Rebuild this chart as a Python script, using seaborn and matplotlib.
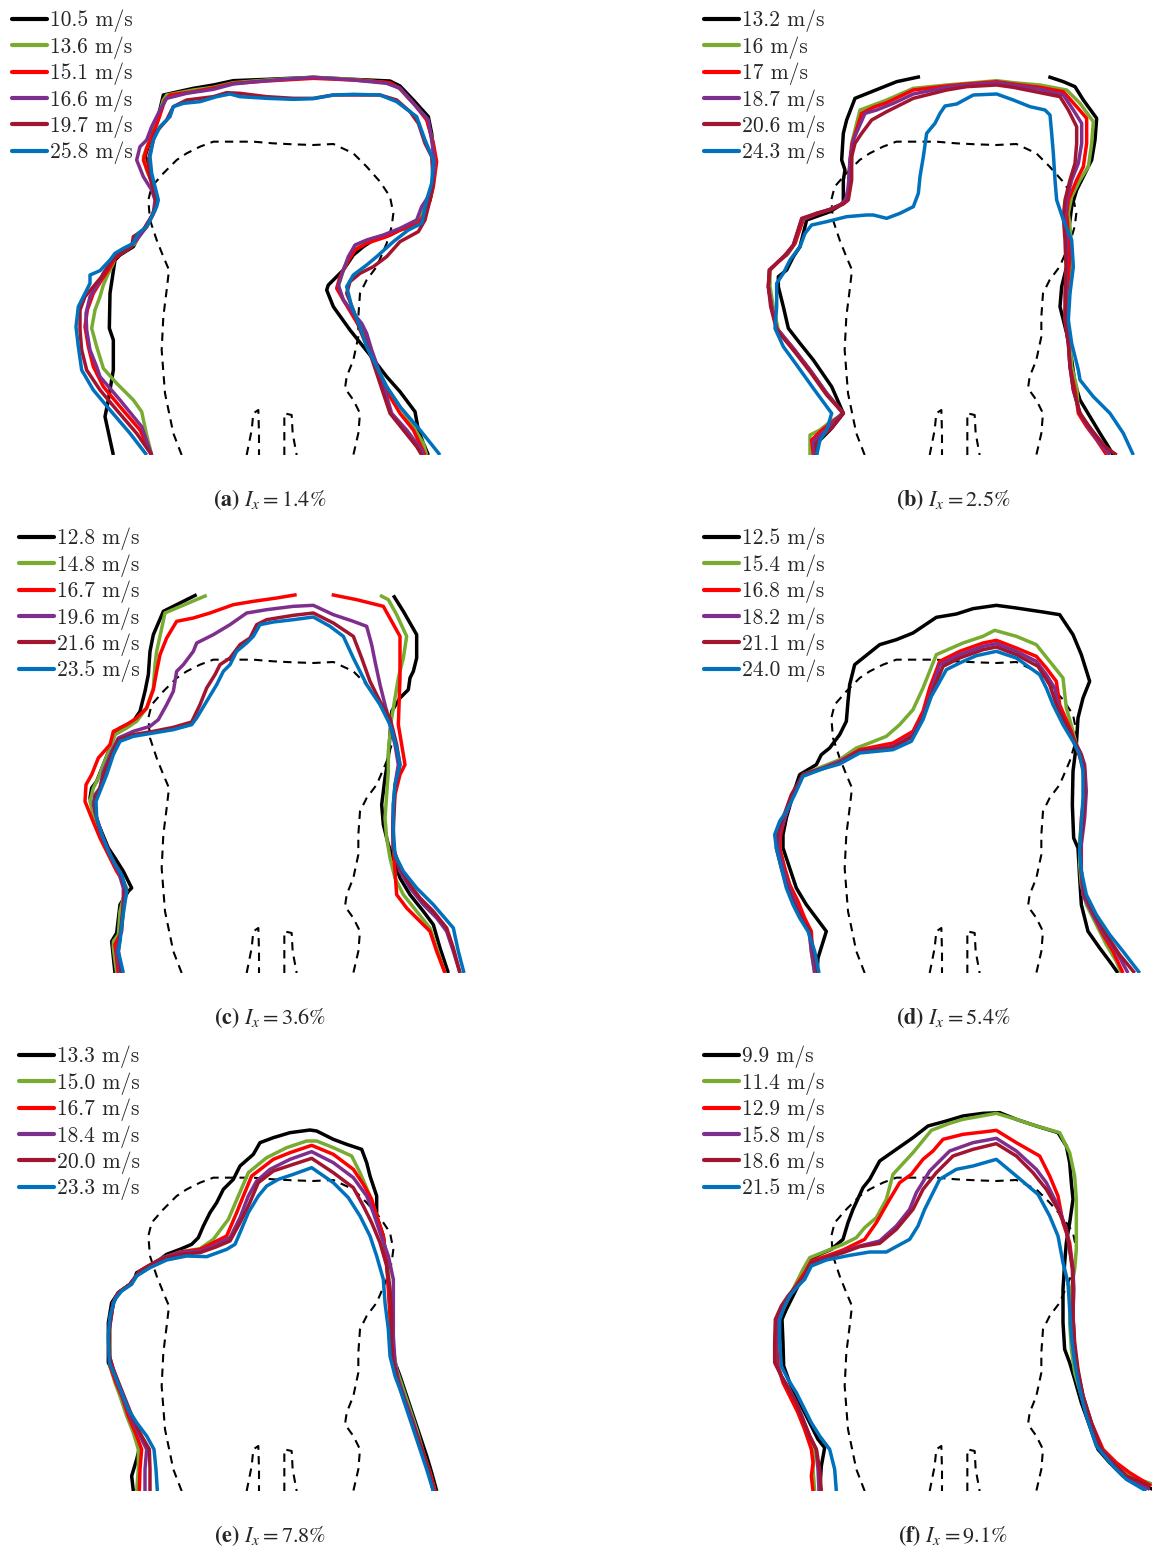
import numpy as np
import pandas as pd
import matplotlib
matplotlib.use("Agg")
import matplotlib.pyplot as plt
import seaborn as sns
from matplotlib.font_manager import FontProperties
from matplotlib.lines import Line2D

# ---------------- data (panel-local picture units, y downward) ----------------
G = (np.nan, np.nan)  # gap marker

COLORS = ["#000000", "#77AC30", "#FF0000", "#7E2F8E", "#A2142F", "#0072BD"]

BODY = [(545,1365),(520,1300),(495,1180),(485,1050),(490,950),(500,870),(507,810),(490,770),
        (470,720),(450,660),(445,600),(455,560),(490,520),(530,480),(560,460),(600,440),(640,425),
        (700,425),(760,425),(820,430),(880,433),(940,435),(1000,432),(1060,460),(1100,500),
        (1140,545),(1170,590),(1180,640),(1175,680),(1160,730),(1130,800),(1100,840),(1080,880),
        (1075,950),(1075,1010),(1060,1080),(1040,1130),(1035,1165),(1060,1200),(1080,1240),
        (1075,1300),(1060,1365)]
LEG1 = [(740,1365),(755,1290),(760,1240),(775,1230),(777,1300),(777,1365)]
LEG2 = [(853,1365),(853,1240),(875,1245),(878,1300),(890,1365)]

# ---- panel (a) I_x = 1.4 %
A_LABELS = ["10.5 m/s", "13.6 m/s", "15.1 m/s", "16.6 m/s", "19.7 m/s", "25.8 m/s"]
A0 = [(340,1365),(315,1250),(325,1200),(340,1110),(340,1020),(328,985),(330,880),(345,780),(360,765),
      (400,740),(420,700),(440,680),(465,630),(470,590),(460,555),(445,510),(435,470),(450,420),(470,370),
      (490,285),(580,265),(640,255),(700,242),(800,238),(940,232),(1060,238),(1170,243),(1200,258),
      (1240,300),(1285,350),(1295,400),(1300,450),(1305,490),(1298,560),(1290,600),(1270,640),(1250,675),
      (1200,690),(1170,705),(1120,720),(1090,740),(1060,765),(1030,810),(985,855),(980,870),(1000,920),
      (1050,990),(1110,1065),(1160,1130),(1200,1175),(1245,1235),(1255,1290),(1270,1330),(1285,1365)]
A1 = [(455,1365),(440,1305),(425,1235),(400,1200),(350,1150),(310,1105),(290,1040),(275,985),(285,930),
      (300,890),(310,855),(325,820),(340,790),(345,770),(380,750),(405,730),(420,700),(440,680),(465,630),
      (470,590),(455,545),(440,510),(430,470),(445,430),(460,400),(490,300),(500,285),(580,270),(640,262),
      (700,248),(800,240),(940,232),(1060,238),(1160,248),(1195,262),(1240,310),(1280,355),(1300,430),
      (1305,490),(1295,560),(1280,600),(1260,650),(1250,670),(1200,690),(1160,705),(1120,715),(1070,740),
      (1050,770),(1030,810),(1015,860),(1030,900),(1060,940),(1090,990),(1110,1040),(1130,1100),
      (1160,1160),(1200,1220),(1240,1280),(1270,1330),(1280,1365)]
A2 = [(455,1365),(420,1290),(360,1220),(310,1160),(280,1100),(265,1040),(255,980),(262,930),(280,880),
      (305,840),(325,810),(345,775),(380,748),(405,725),(430,690),(460,640),(470,600),(460,560),(445,520),
      (430,480),(440,445),(460,400),(475,360),(495,300),(510,285),(580,275),(650,262),(700,250),(800,243),
      (940,235),(1060,240),(1170,248),(1200,265),(1245,315),(1280,360),(1300,430),(1310,485),(1300,560),
      (1290,600),(1275,640),(1255,670),(1200,690),(1160,710),(1100,730),(1065,750),(1040,790),(1020,830),
      (1010,865),(1030,900),(1060,950),(1090,1000),(1110,1060),(1140,1130),(1170,1190),(1200,1240),
      (1240,1290),(1275,1365)]
A3 = [(455,1365),(425,1280),(360,1200),(300,1130),(290,1100),(270,1050),(260,990),(258,940),(270,890),
      (295,850),(310,820),(330,790),(345,770),(375,752),(410,720),(440,680),(460,640),(465,600),(455,570),
      (430,530),(410,480),(420,440),(440,420),(455,380),(480,330),(500,295),(560,280),(640,268),(700,252),
      (800,242),(940,232),(1060,240),(1160,250),(1200,265),(1240,310),(1285,360),(1295,420),(1305,490),
      (1300,540),(1285,590),(1265,620),(1250,660),(1200,685),(1150,705),(1100,720),(1065,735),(1045,770),
      (1030,810),(1015,855),(1030,900),(1060,940),(1085,970),(1100,1000),(1115,1050),(1140,1120),
      (1175,1240),(1220,1290),(1265,1350),(1270,1365)]
A4 = [(455,1365),(410,1300),(350,1230),(300,1170),(260,1110),(245,1050),(240,990),(240,930),(255,890),
      (280,860),(305,830),(330,790),(345,770),(370,755),(395,740),(400,710),(430,690),(455,650),(470,610),
      (460,570),(450,530),(445,480),(455,440),(465,400),(500,360),(520,320),(560,300),(640,290),(680,278),
      (720,280),(800,290),(880,295),(940,295),(1000,285),(1060,285),(1140,285),(1190,300),(1230,335),
      (1255,370),(1275,430),(1295,470),(1300,550),(1290,600),(1275,660),(1255,695),(1200,725),(1160,770),
      (1120,800),(1080,820),(1050,845),(1040,880),(1060,930),(1080,990),(1110,1060),(1130,1120),
      (1150,1180),(1170,1240),(1210,1290),(1250,1340),(1265,1365)]
A5 = [(440,1365),(390,1300),(330,1230),(280,1170),(245,1110),(235,1040),(228,980),(235,920),(255,880),
      (270,850),(270,825),(300,812),(330,780),(345,760),(370,745),(400,730),(415,700),(440,680),(470,620),
      (475,600),(465,560),(455,520),(450,470),(460,420),(480,380),(510,350),(520,320),(550,310),(600,305),
      (650,290),(690,282),(720,290),(800,295),(880,298),(940,296),(1000,285),(1060,283),(1140,285),
      (1190,305),(1250,350),(1275,420),(1300,480),(1295,550),(1280,600),(1265,670),(1225,690),(1180,725),
      (1130,770),(1100,795),(1060,825),(1040,860),(1055,920),(1080,980),(1100,1040),(1130,1100),
      (1160,1160),(1200,1220),(1260,1290),(1300,1340),(1320,1365)]

# ---- panel (b) I_x = 2.5 %
B_LABELS = ["13.2 m/s", "16 m/s", "17 m/s", "18.7 m/s", "20.6 m/s", "24.3 m/s"]
B0 = [(410,1330),(450,1290),(490,1240),(455,1160),(400,1080),(360,1030),(325,985),(310,920),(295,860),
      (295,830),(320,810),(340,770),(360,740),(380,660),(450,635),(490,610),(490,540),(495,510),(485,480),
      (490,400),(500,360),(525,295),(600,265),(650,245),(720,230),G,
      (1105,230),(1150,245),(1185,260),(1210,300),(1250,355),(1245,420),(1235,480),(1220,510),(1190,570),
      (1175,620),(1165,700),(1160,800),(1145,860),(1140,920),(1150,960),(1160,1000),(1175,1080),
      (1185,1150),(1200,1200),(1230,1250),(1260,1300),(1285,1340),(1300,1365)]
B1 = [(390,1365),(390,1305),(420,1290),(445,1270),(490,1240),(440,1180),(390,1110),(340,1050),(295,990),
      (280,920),(270,860),(270,810),(300,780),(325,760),(345,730),(370,655),(410,640),(450,628),(480,615),
      (500,600),(510,560),(515,480),(515,430),(540,330),(580,315),(620,300),(700,265),(800,255),(860,250),
      (950,242),(1000,248),(1080,255),(1160,270),(1200,310),(1240,365),(1235,430),(1225,500),(1200,540),
      (1175,590),(1165,640),(1170,680),(1175,750),(1170,830),(1160,900),(1160,960),(1170,1020),
      (1175,1100),(1190,1160),(1195,1230),(1220,1270),(1250,1310),(1285,1365)]
B2 = [(400,1365),(395,1320),(420,1295),(445,1275),(490,1240),(440,1180),(390,1110),(340,1045),(290,985),
      (275,920),(265,860),(270,810),(295,785),(320,765),(345,730),(370,658),(410,642),(450,628),(480,615),
      (497,600),(505,565),(510,480),(515,435),(545,340),(580,322),(620,308),(700,270),(800,258),(860,252),
      (950,245),(1000,252),(1080,262),(1150,275),(1190,320),(1220,355),(1220,430),(1210,500),(1190,540),
      (1165,600),(1160,640),(1165,700),(1170,760),(1165,830),(1158,900),(1160,960),(1165,1020),
      (1170,1100),(1185,1170),(1195,1240),(1220,1280),(1250,1320),(1280,1365)]
B3 = [(405,1365),(400,1325),(425,1300),(450,1280),(488,1238),(440,1180),(390,1110),(340,1045),(290,985),
      (275,920),(265,860),(268,810),(295,785),(320,762),(340,735),(365,660),(410,640),(450,628),(490,610),
      (500,590),(505,560),(510,480),(520,420),(555,340),(590,330),(640,310),(700,282),(800,262),(860,255),
      (950,248),(1000,255),(1080,268),(1150,285),(1180,330),(1205,370),(1205,430),(1195,490),(1175,540),
      (1160,600),(1155,650),(1160,720),(1160,800),(1158,880),(1155,960),(1165,1030),(1170,1100),
      (1180,1170),(1200,1240),(1230,1290),(1260,1330),(1290,1365)]
B4 = [(410,1365),(408,1330),(430,1305),(455,1285),(490,1240),(440,1185),(390,1115),(340,1050),(290,990),
      (272,920),(265,860),(268,810),(290,790),(315,765),(340,735),(365,655),(410,640),(455,628),(490,612),
      (505,600),(515,540),(515,470),(525,430),(545,400),(575,360),(620,335),(700,295),(800,270),(860,260),
      (950,255),(1000,262),(1080,278),(1140,290),(1165,330),(1190,380),(1190,430),(1185,490),(1170,540),
      (1155,600),(1150,650),(1155,720),(1158,800),(1155,880),(1155,960),(1165,1030),(1170,1100),
      (1180,1170),(1200,1240),(1235,1290),(1275,1340),(1310,1365)]
B5 = [(410,1365),(420,1320),(440,1290),(455,1240),(400,1165),(350,1095),(310,1040),(285,985),(290,920),
      (290,850),(310,820),(330,780),(360,740),(375,700),(395,675),(440,665),(500,650),(560,645),(580,645),
      (620,655),(660,640),(700,620),(715,580),(720,530),(730,470),(740,400),(765,370),(780,340),(795,318),
      (830,312),(880,285),(950,282),(1000,300),(1050,320),(1095,330),(1110,345),(1115,400),(1120,460),
      (1125,540),(1130,600),(1150,660),(1175,720),(1180,800),(1170,880),(1165,960),(1175,1030),
      (1195,1110),(1200,1140),(1240,1190),(1290,1240),(1330,1300),(1360,1365)]

# ---- panel (c) I_x = 3.6 %
C_LABELS = ["12.8 m/s", "14.8 m/s", "16.7 m/s", "19.6 m/s", "21.6 m/s", "23.5 m/s"]
C0 = [(345,1365),(335,1270),(350,1245),(360,1160),(385,1120),(395,1110),(370,1060),(345,1020),(325,990),
      (300,930),(280,880),(270,840),(275,810),(290,790),(310,740),(330,690),(345,645),(360,630),(400,610),
      (420,580),(435,520),(445,470),(450,400),(460,350),(490,280),(520,265),(590,230),G,
      (1180,232),(1210,280),(1250,350),(1250,420),(1240,460),(1230,480),(1225,515),(1200,540),(1175,580),
      (1170,650),(1165,720),(1155,780),(1145,860),(1150,920),(1165,980),(1180,1020),(1200,1080),
      (1230,1130),(1270,1180),(1300,1220),(1320,1290),(1345,1365)]
C1 = [(350,1365),(340,1290),(340,1270),(355,1250),(360,1180),(370,1140),(380,1110),(360,1070),(340,1030),
      (320,990),(300,940),(280,890),(270,850),(280,810),(295,780),(310,740),(335,680),(345,650),(380,630),
      (410,610),(440,570),(460,510),(465,440),(470,400),(495,285),(530,270),(620,232),G,
      (1140,232),(1165,245),(1190,290),(1220,355),(1210,420),(1195,480),(1185,540),(1175,600),(1170,650),
      (1165,700),(1165,760),(1160,830),(1155,900),(1160,960),(1170,1020),(1185,1080),(1210,1130),
      (1250,1180),(1290,1230),(1310,1290),(1335,1365)]
C2 = [(355,1365),(345,1280),(365,1240),(370,1170),(380,1120),(370,1090),(350,1060),(325,1010),(300,960),
      (275,900),(255,850),(258,800),(275,770),(295,720),(330,680),(340,640),(380,620),(410,600),(440,570),
      (460,515),(470,460),(480,410),(500,360),(530,310),(580,300),(630,285),(700,260),(760,250),(830,240),
      (890,230),G,
      (995,230),(1070,245),(1150,265),(1175,310),(1200,355),(1200,480),(1195,620),(1205,680),(1215,740),
      (1200,770),(1185,830),(1180,930),(1180,990),(1185,1060),(1190,1130),(1220,1170),(1260,1210),
      (1290,1240),(1310,1300),(1335,1365)]
C3 = [(360,1365),(350,1300),(360,1260),(370,1180),(370,1110),(355,1060),(335,1020),(310,960),(290,900),
      (280,860),(285,830),(300,810),(310,760),(335,700),(355,660),(400,640),(450,625),(475,605),(500,560),
      (520,520),(530,460),(550,440),(580,400),(590,375),(640,350),(690,320),(740,285),(800,275),(880,265),
      (940,262),(1000,290),(1060,310),(1100,325),(1115,380),(1125,430),(1140,500),(1155,560),(1170,620),
      (1185,680),(1195,740),(1185,800),(1180,860),(1178,930),(1180,990),(1200,1060),(1230,1110),
      (1270,1160),(1310,1200),(1340,1240),(1360,1300),(1380,1365)]
C4 = [(365,1365),(355,1300),(360,1260),(368,1180),(375,1110),(360,1060),(340,1030),(320,990),(300,940),
      (285,880),(285,840),(300,810),(315,760),(335,710),(355,665),(400,650),(460,640),(520,628),(575,612),
      (600,560),(620,510),(645,470),(660,440),(690,420),(720,380),(750,360),(770,320),(800,305),(880,292),
      (940,285),(1000,315),(1060,355),(1085,420),(1110,490),(1140,550),(1170,600),(1190,680),(1200,740),
      (1185,810),(1180,900),(1180,990),(1200,1050),(1230,1100),(1260,1140),(1300,1180),(1340,1230),
      (1360,1290),(1380,1365)]
C5 = [(370,1365),(355,1300),(360,1270),(368,1200),(380,1120),(365,1070),(345,1040),(325,1000),(305,950),
      (290,900),(288,850),(300,820),(320,770),(340,710),(360,670),(400,655),(460,645),(520,635),(575,620),
      (590,600),(620,550),(650,500),(670,460),(690,440),(710,400),(740,375),(760,355),(780,320),(820,312),
      (880,305),(940,297),(990,325),(1030,355),(1060,420),(1100,500),(1140,560),(1170,620),(1190,690),
      (1200,740),(1185,800),(1180,860),(1180,940),(1185,1010),(1210,1060),(1250,1110),(1300,1160),
      (1360,1230),(1375,1300),(1392,1365)]

# ---- panel (d) I_x = 5.4 %
D_LABELS = ["12.5 m/s", "15.4 m/s", "16.8 m/s", "18.2 m/s", "21.1 m/s", "24.0 m/s"]
D0 = [(402,1365),(405,1320),(430,1240),(400,1200),(370,1160),(340,1110),(320,1050),(300,990),(300,950),
      (310,900),(330,830),(350,770),(400,740),(415,710),(440,690),(470,650),(490,610),(495,550),(500,500),
      (515,440),(540,420),(590,380),(640,365),(690,345),(760,298),(820,288),(870,272),(940,262),(1000,270),
      (1080,282),(1130,290),(1170,350),(1195,410),(1220,490),(1200,540),(1185,600),(1180,680),(1170,760),
      (1168,860),(1172,960),(1185,990),(1190,1080),(1195,1160),(1215,1240),(1250,1290),(1280,1330),
      (1305,1365)]
D1 = [(395,1365),(385,1300),(380,1240),(360,1200),(340,1150),(320,1100),(305,1050),(290,990),(290,950),
      (305,900),(330,830),(360,770),(420,745),(470,725),(520,690),(560,675),(610,655),(650,620),(690,575),
      (720,510),(740,460),(760,410),(840,375),(900,355),(935,337),(1000,355),(1060,380),(1100,430),
      (1140,480),(1150,570),(1170,640),(1185,700),(1200,740),(1205,800),(1200,880),(1190,960),(1190,1040),
      (1195,1100),(1210,1160),(1240,1220),(1270,1280),(1300,1330),(1315,1365)]
D2 = [(400,1365),(388,1300),(385,1240),(365,1200),(345,1150),(320,1100),(305,1050),(290,990),(293,950),
      (305,900),(330,830),(360,770),(420,750),(470,730),(530,695),(630,675),(690,640),(720,580),(740,510),
      (770,430),(830,400),(900,375),(940,367),(1000,390),(1060,415),(1090,450),(1120,490),(1130,560),
      (1165,640),(1185,700),(1200,750),(1205,820),(1195,900),(1192,980),(1195,1060),(1200,1130),
      (1230,1190),(1260,1250),(1290,1300),(1320,1365)]
D3 = [(395,1365),(385,1300),(378,1240),(355,1200),(335,1150),(315,1100),(300,1050),(285,990),(290,940),
      (305,900),(330,830),(360,770),(420,750),(470,730),(530,700),(630,685),(690,650),(720,595),(745,520),
      (770,440),(830,410),(900,385),(940,377),(1000,400),(1060,430),(1090,470),(1115,510),(1130,580),
      (1165,650),(1195,710),(1205,740),(1210,820),(1205,900),(1195,980),(1195,1060),(1200,1130),
      (1230,1190),(1265,1250),(1300,1300),(1335,1365)]
D4 = [(405,1365),(392,1300),(380,1240),(355,1200),(330,1150),(310,1100),(295,1050),(280,990),(285,940),
      (300,900),(325,830),(360,770),(420,752),(470,735),(530,700),(630,688),(690,655),(720,600),(745,530),
      (780,445),(830,420),(900,395),(940,387),(1000,410),(1065,445),(1100,500),(1120,560),(1140,600),
      (1170,660),(1195,710),(1205,760),(1205,840),(1200,920),(1192,980),(1195,1060),(1205,1130),
      (1235,1190),(1270,1250),(1310,1310),(1355,1365)]
D5 = [(408,1365),(395,1300),(375,1240),(350,1200),(330,1160),(310,1110),(295,1050),(280,990),(275,950),
      (290,910),(310,880),(335,830),(360,775),(420,752),(470,738),(530,705),(630,695),(685,670),(720,605),
      (745,535),(765,500),(790,455),(830,435),(880,413),(940,400),(1000,420),(1070,470),(1090,510),
      (1110,560),(1140,620),(1170,670),(1190,710),(1200,760),(1200,840),(1195,920),(1190,1000),(1195,1060),
      (1210,1130),(1240,1190),(1280,1250),(1320,1300),(1370,1365)]

# ---- panel (e) I_x = 7.8 %
E_LABELS = ["13.3 m/s", "15.0 m/s", "16.7 m/s", "18.4 m/s", "20.0 m/s", "23.3 m/s"]
E0 = [(400,1365),(395,1320),(410,1270),(420,1230),(400,1180),(380,1120),(360,1060),(340,1010),(325,980),
      (325,920),(325,860),(335,800),(355,770),(390,745),(405,725),(410,710),(440,695),(480,670),(500,655),
      (540,640),(575,625),(595,605),(610,570),(630,530),(650,500),(670,460),(700,430),(720,390),(760,355),
      (780,320),(820,305),(870,290),(930,282),(950,285),(1000,310),(1040,325),(1085,340),(1100,380),
      (1110,420),(1130,480),(1130,540),(1150,600),(1160,680),(1165,740),(1170,820),(1175,900),(1185,980),
      (1200,1020),(1220,1080),(1240,1140),(1260,1200),(1280,1260),(1295,1310),(1310,1365)]
E1 = [(410,1365),(415,1300),(415,1240),(400,1190),(380,1140),(360,1080),(345,1040),(330,990),(330,930),
      (330,860),(340,800),(355,770),(390,745),(405,725),(420,705),(445,690),(490,665),(540,648),(600,638),
      (640,610),(685,550),(715,480),(745,410),(800,365),(860,335),(920,315),(950,315),(1000,335),
      (1055,360),(1080,410),(1110,480),(1130,540),(1150,620),(1165,700),(1170,780),(1175,860),(1180,940),
      (1190,1000),(1210,1060),(1230,1120),(1250,1180),(1270,1250),(1290,1310),(1305,1365)]
E2 = [(418,1365),(420,1300),(425,1240),(410,1200),(385,1140),(365,1080),(348,1040),(330,990),(328,930),
      (328,860),(340,800),(355,770),(390,745),(405,725),(420,705),(445,690),(490,665),(540,648),(600,640),
      (640,620),(680,600),(710,530),(730,480),(755,420),(820,370),(870,350),(935,328),(1000,355),
      (1060,400),(1090,445),(1115,490),(1130,540),(1150,600),(1160,680),(1165,760),(1170,840),(1175,920),
      (1180,990),(1200,1050),(1220,1110),(1245,1180),(1270,1250),(1290,1310),(1305,1365)]
E3 = [(435,1365),(435,1300),(440,1240),(420,1200),(395,1150),(375,1100),(358,1050),(340,1000),(328,960),
      (328,880),(340,800),(355,770),(390,745),(405,725),(420,705),(445,690),(490,665),(540,650),(600,645),
      (640,630),(690,605),(720,545),(745,480),(770,435),(810,400),(870,370),(935,347),(1000,380),
      (1060,425),(1100,480),(1120,530),(1140,590),(1165,660),(1180,730),(1180,820),(1180,900),(1185,980),
      (1195,1030),(1215,1090),(1240,1160),(1265,1240),(1285,1300),(1300,1365)]
E4 = [(450,1365),(450,1300),(448,1240),(425,1200),(400,1150),(380,1100),(360,1050),(340,1000),(328,960),
      (328,880),(340,800),(355,770),(390,745),(405,725),(420,705),(445,690),(490,667),(540,655),(600,650),
      (650,632),(690,615),(720,560),(745,510),(775,440),(820,405),(880,385),(935,367),(1000,410),
      (1060,455),(1090,510),(1115,560),(1140,620),(1160,690),(1170,760),(1175,840),(1175,920),(1180,980),
      (1195,1040),(1215,1100),(1240,1170),(1265,1240),(1285,1300),(1300,1365)]
E5 = [(472,1365),(468,1300),(462,1240),(440,1200),(410,1160),(385,1120),(365,1070),(345,1020),(328,980),
      (325,900),(330,840),(345,790),(365,765),(395,745),(410,720),(450,695),(500,672),(560,660),(620,662),
      (680,640),(705,625),(720,590),(745,530),(775,480),(800,450),(835,430),(880,415),(935,395),(1000,440),
      (1045,485),(1080,540),(1110,600),(1130,660),(1150,730),(1155,800),(1165,880),(1170,960),(1185,1020),
      (1200,1060),(1220,1120),(1240,1180),(1260,1240),(1280,1300),(1300,1365)]

# ---- panel (f) I_x = 9.1 %
F_LABELS = ["9.9 m/s", "11.4 m/s", "12.9 m/s", "15.8 m/s", "18.6 m/s", "21.5 m/s"]
F0 = [(410,1365),(415,1290),(425,1235),(405,1210),(385,1170),(360,1120),(340,1080),(320,1040),(302,990),
      (300,920),(297,850),(310,820),(330,780),(345,750),(365,720),(380,670),(410,655),(445,640),(480,610),
      (495,560),(510,520),(540,455),(560,430),(590,375),(640,340),(690,305),(735,270),(790,255),(840,240),
      (900,232),(950,230),(1000,250),(1060,270),(1125,290),(1150,330),(1160,380),(1165,440),(1170,490),
      (1160,560),(1150,620),(1145,680),(1140,760),(1140,860),(1145,940),(1160,980),(1175,1030),(1195,1100),
      (1220,1170),(1245,1240),(1280,1280),(1320,1320),(1360,1340),(1410,1360)]
F1 = [(395,1365),(390,1300),(395,1250),(380,1220),(365,1180),(345,1130),(325,1080),(302,1040),(285,990),
      (282,920),(285,850),(305,810),(325,770),(345,730),(360,700),(380,665),(430,645),(480,625),(520,605),
      (545,575),(580,545),(610,490),(630,415),(690,350),(745,283),(800,262),(840,250),(940,232),(1000,250),
      (1060,270),(1130,290),(1160,350),(1175,420),(1180,490),(1180,560),(1180,640),(1175,700),(1165,760),
      (1160,860),(1165,940),(1175,1010),(1195,1080),(1215,1150),(1240,1220),(1260,1250),(1300,1290),
      (1340,1320),(1410,1345)]
F2 = [(390,1365),(385,1320),(390,1280),(385,1240),(365,1180),(345,1130),(320,1080),(300,1040),(285,990),
      (280,920),(285,850),(305,810),(325,770),(345,740),(365,710),(385,675),(430,660),(480,642),(545,610),
      (580,560),(620,490),(650,440),(685,415),(720,370),(750,345),(780,310),(840,295),(900,288),(940,283),
      (1000,320),(1070,360),(1100,420),(1125,480),(1140,560),(1160,620),(1170,700),(1172,760),(1170,840),
      (1175,940),(1185,1010),(1200,1080),(1225,1160),(1260,1240),(1300,1280),(1340,1310),(1405,1350)]
F3 = [(408,1365),(405,1300),(400,1240),(380,1200),(360,1150),(340,1100),(318,1060),(295,1020),(278,980),
      (278,920),(280,850),(300,810),(320,780),(340,750),(362,725),(385,680),(430,665),(480,648),(530,630),
      (590,615),(640,570),(680,520),(700,470),(740,405),(800,345),(870,320),(940,307),(1000,345),
      (1060,400),(1090,440),(1125,510),(1150,580),(1160,640),(1170,700),(1172,760),(1170,840),(1175,940),
      (1185,1010),(1200,1080),(1225,1160),(1255,1240),(1290,1280),(1330,1320),(1400,1360)]
F4 = [(415,1365),(410,1300),(400,1240),(380,1200),(360,1150),(340,1100),(318,1060),(295,1020),(275,980),
      (275,920),(277,850),(295,810),(315,780),(340,750),(362,725),(385,680),(430,665),(480,650),(530,632),
      (590,622),(640,580),(690,520),(720,460),(760,410),(810,360),(870,340),(940,323),(1000,360),
      (1050,410),(1090,460),(1125,520),(1150,580),(1160,640),(1168,700),(1170,760),(1170,840),(1175,920),
      (1185,1000),(1200,1080),(1225,1160),(1255,1240),(1290,1280),(1330,1320),(1400,1350)]
F5 = [(460,1365),(455,1300),(440,1240),(410,1200),(385,1160),(360,1110),(340,1070),(315,1030),(295,990),
      (290,920),(290,850),(305,810),(320,780),(345,750),(365,730),(385,690),(430,672),(500,658),(560,648),
      (610,648),(680,610),(705,570),(725,520),(745,480),(770,430),(820,400),(870,390),(940,370),(1000,420),
      (1065,475),(1100,540),(1125,600),(1140,680),(1155,740),(1160,820),(1165,900),(1175,980),(1190,1060),
      (1210,1140),(1240,1230),(1290,1290),(1330,1330),(1390,1365)]

PANEL_TAGS = ["a", "b", "c", "d", "e", "f"]
IX_VALUES = ["1.4", "2.5", "3.6", "5.4", "7.8", "9.1"]
PANEL_LABELS = [A_LABELS, B_LABELS, C_LABELS, D_LABELS, E_LABELS, F_LABELS]
PANEL_CURVES = [[A0, A1, A2, A3, A4, A5], [B0, B1, B2, B3, B4, B5], [C0, C1, C2, C3, C4, C5],
                [D0, D1, D2, D3, D4, D5], [E0, E1, E2, E3, E4, E5], [F0, F1, F2, F3, F4, F5]]

# ---------------- layout ----------------
W, H = 1152, 1550
PANEL_ORIGIN = [(0, 0), (683, 0), (0, 518), (683, 518), (0, 1036), (683, 1036)]
X_SHIFT = [0, -9, 0, 0, 0, 0]          # panel (b) was read with a 9-unit offset
LEG_X = [12, 21, 19, 21, 19, 21]        # legend left edge (px, panel local)
PW, PH = 476, 455                       # panel size in px
SCALE = 3.0                              # picture units per px

sns.set_theme(style="white")
plt.rcParams["mathtext.fontset"] = "stix"
plt.rcParams["font.family"] = ["Liberation Serif", "DejaVu Serif"]

fig = plt.figure(figsize=(W / 100, H / 100), dpi=100)
legend_font = FontProperties(family="cmr10", size=15.5)


def segments(points):
    segs, cur = [], []
    for p in points:
        if np.isnan(p[0]):
            if cur:
                segs.append(cur)
            cur = []
        else:
            cur.append(p)
    if cur:
        segs.append(cur)
    return segs


for i in range(6):
    x0, y0 = PANEL_ORIGIN[i]
    ax = fig.add_axes([x0 / W, 1 - (y0 + PH) / H, PW / W, PH / H])
    ax.set_xlim(0, PW * SCALE)
    ax.set_ylim(PH * SCALE, 0)
    ax.axis("off")

    # dashed body outline
    for shape in (BODY, LEG1, LEG2):
        df = pd.DataFrame(shape, columns=["x", "y"])
        sns.lineplot(data=df, x="x", y="y", sort=False, estimator=None, color="black",
                     lw=1.5, ax=ax, legend=False)
        ax.lines[-1].set_dashes((4, 3))

    handles = []
    for k, (pts, lab) in enumerate(zip(PANEL_CURVES[i], PANEL_LABELS[i])):
        for seg in segments(pts):
            df = pd.DataFrame(seg, columns=["x", "y"])
            df["x"] = df["x"] + X_SHIFT[i]
            sns.lineplot(data=df, x="x", y="y", sort=False, estimator=None,
                         color=COLORS[k], lw=2.5, ax=ax, legend=False)
            ax.lines[-1].set_solid_capstyle("butt")
        handles.append(Line2D([], [], color=COLORS[k], lw=3.0))

    ax.set_xlabel("")
    ax.set_ylabel("")
    ax.legend(handles, PANEL_LABELS[i], prop=legend_font, frameon=False,
              loc="upper left",
              bbox_to_anchor=(LEG_X[i] / PW, 1 - 10 / PH),
              borderaxespad=0, borderpad=0, handlelength=1.63,
              handletextpad=0.15, labelspacing=0.18)

    ax.text(270 * SCALE, 500 * SCALE,
            r"$\mathbf{(" + PANEL_TAGS[i] + r")}\ I_x = " + IX_VALUES[i] + r"\%$",
            ha="center", va="center", fontsize=16, clip_on=False)

fig.savefig("out.png", dpi=100)
